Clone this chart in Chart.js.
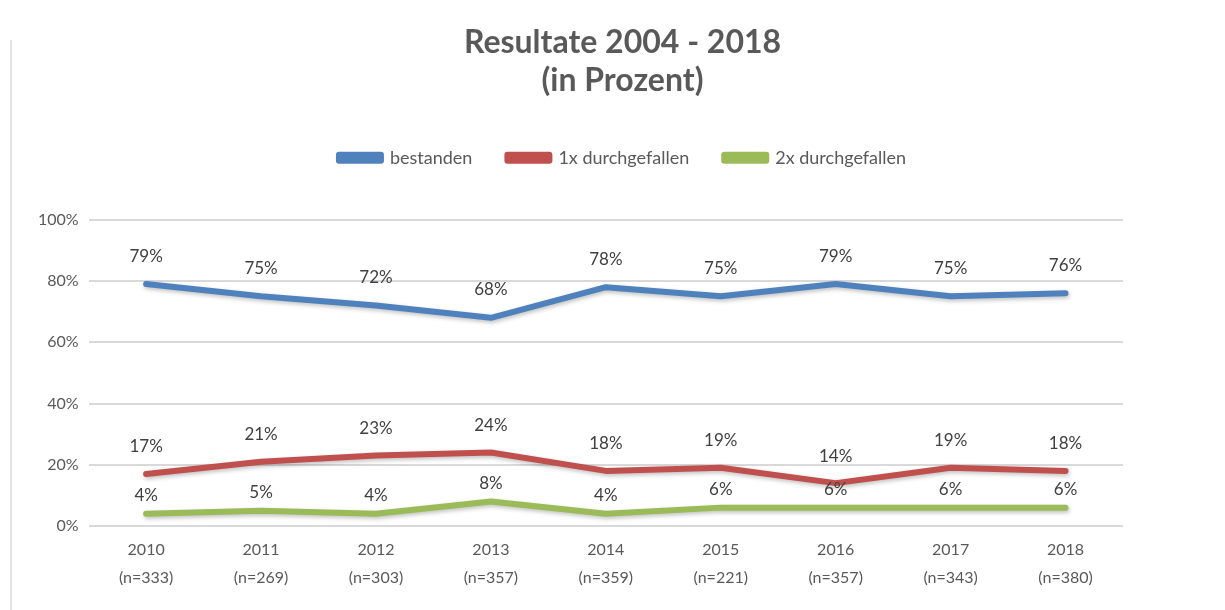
<!DOCTYPE html>
<html>
<head>
<meta charset="utf-8">
<script src="https://cdn.jsdelivr.net/npm/chart.js@4"></script>
<style>
  html, body { margin: 0; padding: 0; background: #fff; }
  #wrap { position: relative; width: 1225px; height: 610px; }
  #edge { position: absolute; left: 10px; top: 40px; width: 0; height: 570px; border-left: 2px solid #e3e3e3; }
</style>
</head>
<body>
<div id="wrap">
  <div id="edge"></div>
  <canvas id="lineChart" width="1225" height="610"></canvas>
</div>
<script>
const jahre = ['2010', '2011', '2012', '2013', '2014', '2015', '2016', '2017', '2018'];
const anzahl = ['(n=333)', '(n=269)', '(n=303)', '(n=357)', '(n=359)', '(n=221)', '(n=357)', '(n=343)', '(n=380)'];
const bestanden = [79, 75, 72, 68, 78, 75, 79, 75, 76];
const einmalDurchgefallen = [17, 21, 23, 24, 18, 19, 14, 19, 18];
const zweimalDurchgefallen = [4, 5, 4, 8, 4, 6, 6, 6, 6];
const yTicks = [0, 20, 40, 60, 80, 100];

const schrift = 'Lato, "Open Sans", sans-serif';

// Werte über den Linien beschriften (wie in Excel)
const wertLabels = {
    id: 'wertLabels',
    afterDatasetsDraw(chart) {
        const ctx = chart.ctx;
        ctx.save();
        ctx.font = '17px ' + schrift;
        ctx.fillStyle = '#404040';
        ctx.textAlign = 'center';
        ctx.textBaseline = 'middle';
        chart.data.datasets.forEach((ds, i) => {
            const meta = chart.getDatasetMeta(i);
            const abstand = ds.labelAbstand || 27;
            meta.data.forEach((pt, j) => {
                ctx.fillText(ds.data[j] + '%', pt.x, pt.y - abstand);
            });
        });
        ctx.restore();
    }
};

// leichter Schatten unter den Linien
const linienSchatten = {
    id: 'linienSchatten',
    beforeDatasetDraw(chart) {
        const ctx = chart.ctx;
        ctx.save();
        ctx.shadowColor = 'rgba(0,0,0,0.25)';
        ctx.shadowBlur = 4;
        ctx.shadowOffsetX = 1;
        ctx.shadowOffsetY = 2;
    },
    afterDatasetDraw(chart) {
        chart.ctx.restore();
    }
};

// mehr Abstand zwischen Legende und Diagramm
const legendeAbstand = {
    id: 'legendeAbstand',
    beforeInit(chart) {
        const origFit = chart.legend.fit;
        chart.legend.fit = function () {
            origFit.bind(chart.legend)();
            this.height += 43;
        };
    }
};

const ctxLine = document.getElementById('lineChart').getContext('2d');
const lineChart = new Chart(ctxLine, {
    type: 'line',
    data: {
        labels: jahre.map((j, i) => [j, anzahl[i]]),
        datasets: [{
            label: 'bestanden',
            data: bestanden,
            borderColor: '#4f81bd',
            backgroundColor: '#4f81bd',
            borderWidth: 6,
            labelAbstand: 28
        }, {
            label: '1x durchgefallen',
            data: einmalDurchgefallen,
            borderColor: '#c0504d',
            backgroundColor: '#c0504d',
            borderWidth: 6,
            labelAbstand: 27
        }, {
            label: '2x durchgefallen',
            data: zweimalDurchgefallen,
            borderColor: '#9bbb59',
            backgroundColor: '#9bbb59',
            borderWidth: 6,
            labelAbstand: 18
        }]
    },
    options: {
        responsive: false,
        animation: false,
        elements: {
            point: { radius: 0 },
            line: { tension: 0, borderCapStyle: 'round', borderJoinStyle: 'round' }
        },
        layout: {
            padding: { left: 28, right: 8, top: 23, bottom: 16 }
        },
        plugins: {
            title: {
                display: true,
                text: ['Resultate 2004 - 2018', '(in Prozent)'],
                color: '#595959',
                font: { family: schrift, size: 32, weight: 'bold', lineHeight: 1.2 },
                padding: { top: 0, bottom: 14 }
            },
            legend: {
                display: true,
                position: 'top',
                labels: {
                    color: '#595959',
                    font: { family: schrift, size: 18 },
                    boxWidth: 42,
                    boxHeight: 6,
                    padding: 35
                }
            },
            tooltip: { enabled: false }
        },
        scales: {
            x: {
                offset: true,
                grid: { display: false },
                border: { display: false },
                ticks: {
                    color: '#595959',
                    font: { family: schrift, size: 16, lineHeight: 1.75 },
                    maxRotation: 0,
                    padding: 2
                }
            },
            y: {
                min: 0,
                max: 100,
                afterBuildTicks(axis) {
                    axis.ticks = yTicks.map(v => ({ value: v }));
                },
                grid: { color: '#d9d9d9', lineWidth: 2, drawTicks: false },
                border: { display: false },
                ticks: {
                    color: '#595959',
                    font: { family: schrift, size: 16 },
                    padding: 10,
                    callback: v => v + '%'
                }
            },
            rechts: {
                position: 'right',
                display: true,
                grid: { display: false },
                border: { display: false },
                ticks: { display: false },
                afterFit(axis) {
                    axis.width = 94;
                }
            }
        }
    },
    plugins: [wertLabels, linienSchatten, legendeAbstand]
});
</script>
</body>
</html>
